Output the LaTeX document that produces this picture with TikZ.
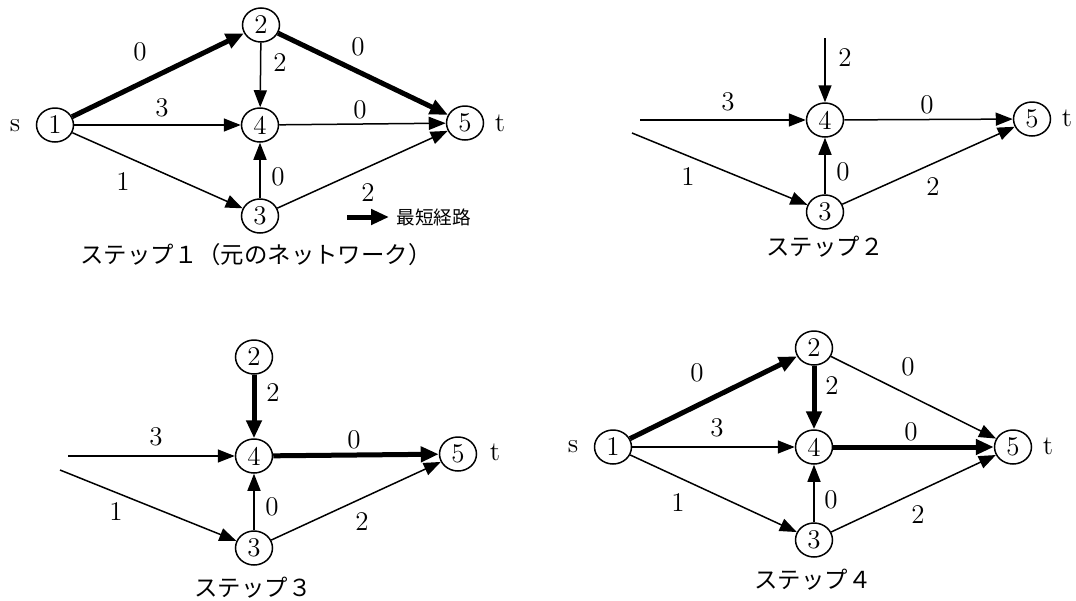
\documentclass[tikz,border=0pt]{standalone}
\usepackage{fontspec}
\newfontfamily\jp{Noto Sans CJK JP}
\usetikzlibrary{arrows.meta,shapes.geometric}
\tikzset{
  nd/.style={ellipse, draw, line width=0.75pt, minimum width=18.5pt, minimum height=17pt, inner sep=0pt, font=\fontsize{13.5}{14}\selectfont},
  thin/.style={line width=0.75pt, -{Triangle[length=8.5pt,width=6.5pt]}},
  bold/.style={line width=2.5pt, -{Triangle[length=9pt,width=7.5pt]}},
  lbl/.style={font=\fontsize{13.5}{14}\selectfont, inner sep=0pt},
  st/.style={font=\fontsize{13.5}{14}\selectfont, inner sep=0pt},
  captext/.style={font=\jp\fontsize{11.7}{13}\selectfont, inner sep=0pt},
  legtext/.style={font=\jp\fontsize{9.3}{11}\selectfont, inner sep=0pt, anchor=west},
}
\begin{document}
\begin{tikzpicture}[x=0.5pt,y=-0.5pt]
\useasboundingbox (0,0) rectangle (1076,600);
% ---------- Step 1 ----------
\node[nd] (a1) at (55,125) {1};
\node[nd] (a2) at (261,25) {2};
\node[nd] (a4) at (260,125) {4};
\node[nd] (a3) at (260,216) {3};
\node[nd] (a5) at (465,123) {5};
\node[st] (as) at (15,126) {s};
\node[st] (at) at (500,123) {t};
\draw[bold] (a1) -- (a2);
\draw[bold] (a2) -- (a5);
\draw[thin] (a2) -- (a4);
\draw[thin] (a1) -- (a4);
\draw[thin] (a4) -- (a5);
\draw[thin] (a1) -- (a3);
\draw[thin] (a3) -- (a4);
\draw[thin] (a3) -- (a5);
\node[lbl] (la12) at (140,52) {0};
\node[lbl] (la25) at (358,47) {0};
\node[lbl] (la24) at (280,63) {2};
\node[lbl] (la14) at (162,108) {3};
\node[lbl] (la45) at (360,110) {0};
\node[lbl] (la13) at (123,182) {1};
\node[lbl] (la34) at (278,177) {0};
\node[lbl] (la35) at (368,193) {2};
\coordinate (lgA) at (347,217);
\coordinate (lgB) at (389,217);
\draw[bold] (lgA) -- (lgB);
\node[legtext] (lgt) at (396,217) {最短経路};
\node[captext] (cap1) at (256,255) {ステップ１（元のネットワーク）};
% ---------- Step 2 ----------
\node[nd] (b4) at (825,120) {4};
\node[nd] (b3) at (825,212) {3};
\node[nd] (b5) at (1032,119) {5};
\node[st] (bt) at (1067,118) {t};
\coordinate (b2in) at (825,38);
\coordinate (b1a) at (640,120);
\coordinate (b1b) at (632,133);
\draw[thin] (b2in) -- (b4);
\draw[thin] (b1a) -- (b4);
\draw[thin] (b1b) -- (b3);
\draw[thin] (b4) -- (b5);
\draw[thin] (b3) -- (b4);
\draw[thin] (b3) -- (b5);
\node[lbl] (lb24) at (845,58) {2};
\node[lbl] (lb14) at (728,102) {3};
\node[lbl] (lb13) at (688,177) {1};
\node[lbl] (lb34) at (843,172) {0};
\node[lbl] (lb35) at (933,187) {2};
\node[lbl] (lb45) at (927,105) {0};
\node[captext] (cap2) at (825,247) {ステップ２};
% ---------- Step 3 ----------
\node[nd] (c2) at (254,357) {2};
\node[nd] (c4) at (254,456) {4};
\node[nd] (c3) at (254,548) {3};
\node[nd] (c5) at (458,454) {5};
\node[st] (ct) at (495,452) {t};
\coordinate (c1a) at (68,456);
\coordinate (c1b) at (60,470);
\draw[bold] (c2) -- (c4);
\draw[thin] (c1a) -- (c4);
\draw[thin] (c1b) -- (c3);
\draw[bold] (c4) -- (c5);
\draw[thin] (c3) -- (c4);
\draw[thin] (c3) -- (c5);
\node[lbl] (lc24) at (273,393) {2};
\node[lbl] (lc14) at (156,437) {3};
\node[lbl] (lc13) at (116,512) {1};
\node[lbl] (lc45) at (354,440) {0};
\node[lbl] (lc34) at (272,507) {0};
\node[lbl] (lc35) at (362,522) {2};
\node[captext] (cap3) at (253,588) {ステップ３};
% ---------- Step 4 ----------
\node[nd] (d1) at (613,447) {1};
\node[nd] (d2) at (814,348) {2};
\node[nd] (d4) at (814,447) {4};
\node[nd] (d3) at (814,540) {3};
\node[nd] (d5) at (1013,447) {5};
\node[st] (ds) at (573,447) {s};
\node[st] (dt) at (1048,446) {t};
\draw[bold] (d1) -- (d2);
\draw[bold] (d2) -- (d4);
\draw[thin] (d2) -- (d5);
\draw[thin] (d1) -- (d4);
\draw[bold] (d4) -- (d5);
\draw[thin] (d1) -- (d3);
\draw[thin] (d3) -- (d4);
\draw[thin] (d3) -- (d5);
\node[lbl] (ld12) at (697,373) {0};
\node[lbl] (ld24) at (832,386) {2};
\node[lbl] (ld25) at (908,367) {0};
\node[lbl] (ld14) at (717,428) {3};
\node[lbl] (ld45) at (911,432) {0};
\node[lbl] (ld13) at (678,503) {1};
\node[lbl] (ld34) at (831,500) {0};
\node[lbl] (ld35) at (918,515) {2};
\node[captext] (cap4) at (813,580) {ステップ４};
\end{tikzpicture}
\end{document}
